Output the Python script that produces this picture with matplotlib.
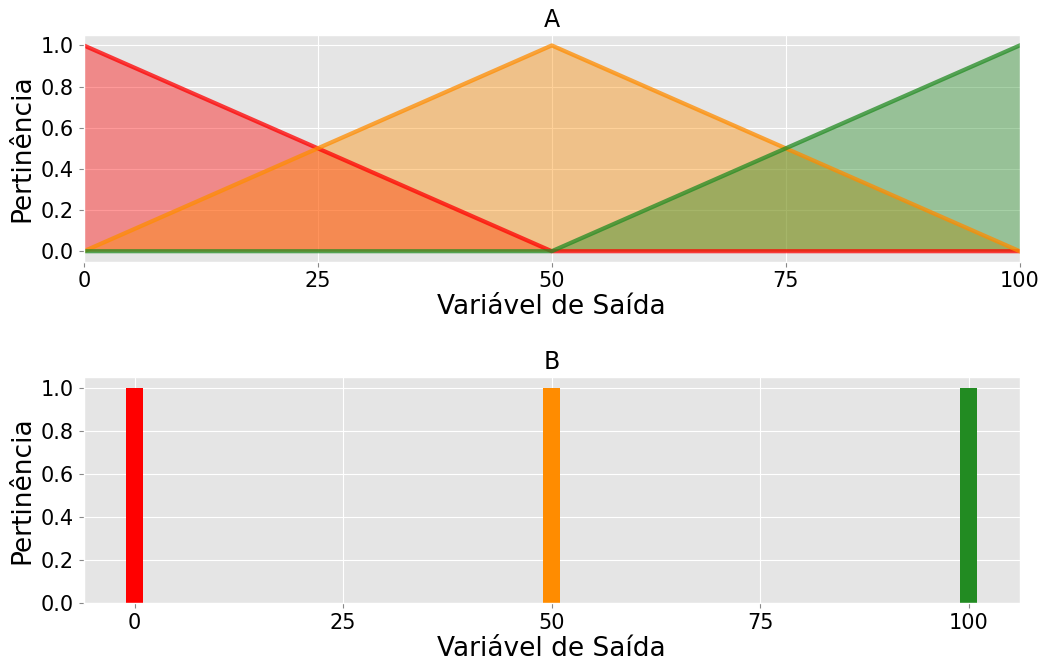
import matplotlib
matplotlib.use("Agg")
import matplotlib.pyplot as plt

plt.style.use("ggplot")

# membership functions sampled at their breakpoints
x = [0, 25, 50, 75, 100]
baixo = [1.0, 0.5, 0.0, 0.0, 0.0]
medio = [0.0, 0.5, 1.0, 0.5, 0.0]
alto = [0.0, 0.0, 0.0, 0.5, 1.0]
series = [baixo, medio, alto]
cores = ["red", "darkorange", "forestgreen"]

# singleton outputs
singletons = [0, 50, 100]
alturas = [1.0, 1.0, 1.0]

xticks = [0, 25, 50, 75, 100]
yticks = [0.0, 0.2, 0.4, 0.6, 0.8, 1.0]

fig, (ax1, ax2) = plt.subplots(2, 1, figsize=(10.48, 6.63), dpi=100)
fig.subplots_adjust(left=0.080, right=0.973, top=0.947, bottom=0.09, hspace=0.51)

for y, c in zip(series, cores):
    ax1.plot(x, y, color=c, lw=3, alpha=0.75)
    ax1.fill_between(x, y, color=c, alpha=0.4, lw=0)
ax1.set_xlim(0, 100)
ax1.set_title("A", fontsize=17, color="black")

ax2.bar(singletons, alturas, width=2, color=cores)
ax2.set_title("B", fontsize=17, color="black")

for ax in (ax1, ax2):
    ax.set_xticks(xticks)
    ax.set_yticks(yticks)
    ax.tick_params(labelsize=15, colors="black", labelcolor="black")
    ax.tick_params(axis="both", color="#888888")
    ax.set_xlabel("Variável de Saída", fontsize=19, color="black", labelpad=2)
    ax.set_ylabel("Pertinência", fontsize=19, color="black", labelpad=4)

fig.savefig("out.png", dpi=100)
